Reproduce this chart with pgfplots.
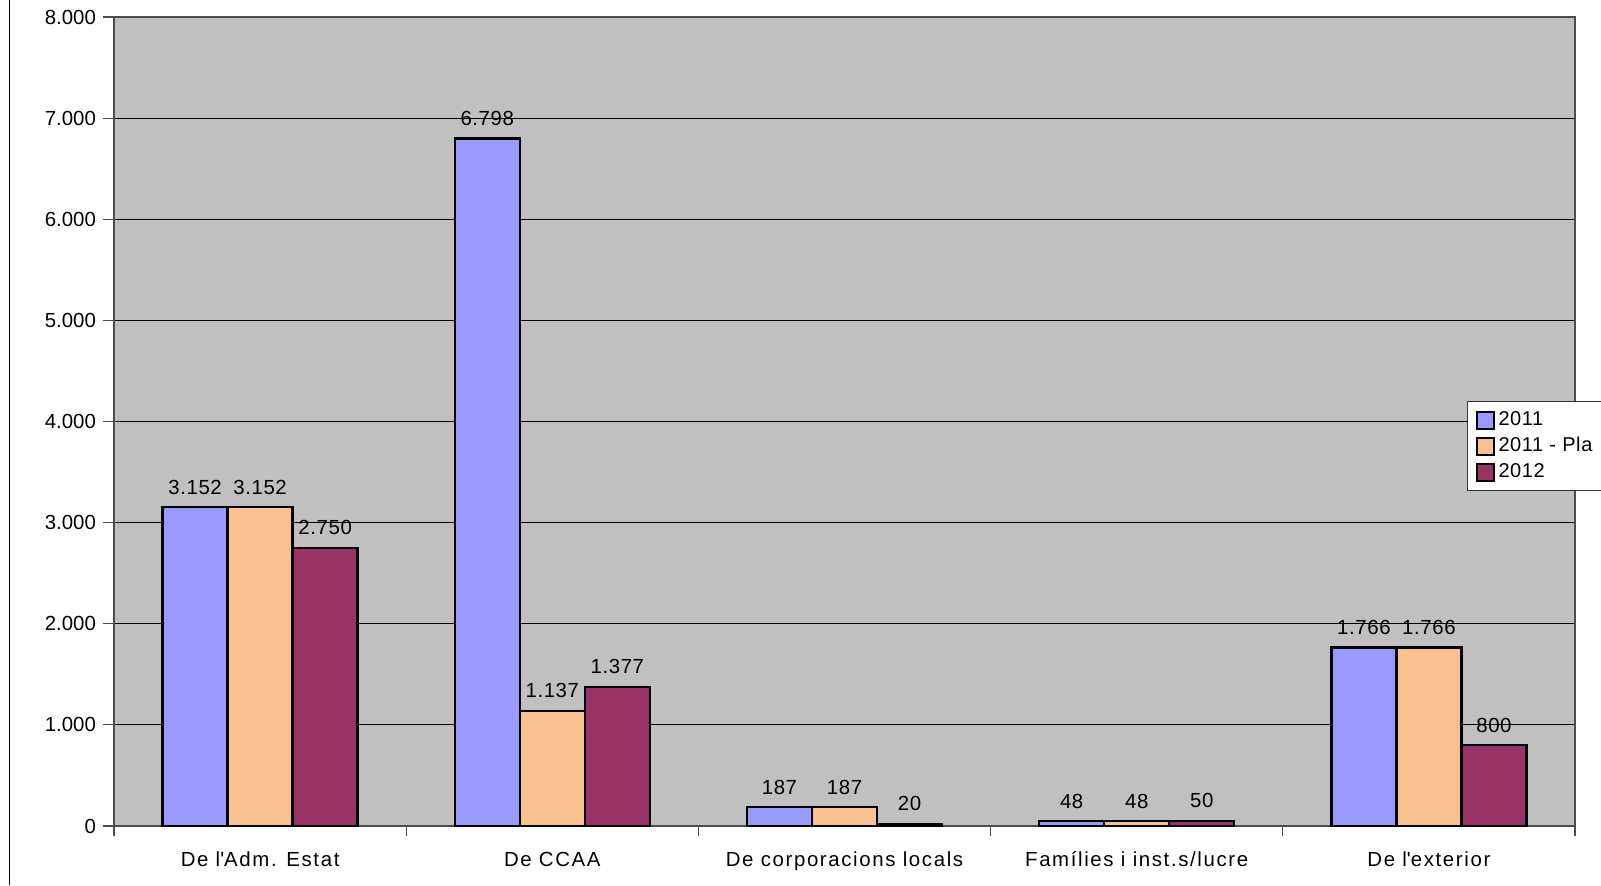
\documentclass[border=0pt]{standalone}
\usepackage{fontspec}
\setmainfont{Liberation Sans}
\usepackage{pgfplots}
\pgfplotsset{compat=1.18}
\definecolor{c2011}{HTML}{9999FF}
\definecolor{cpla}{HTML}{FAC090}
\definecolor{c2012}{HTML}{993366}
\definecolor{plotbg}{HTML}{C0C0C0}

\begin{document}
\begin{tikzpicture}
\path[use as bounding box] (-57pt,-29.5pt) rectangle (743.5pt,413pt);
\draw[line width=0.8pt] (-52.25pt,-29.5pt) -- (-52.25pt,413pt);
\begin{axis}[
  at={(0,0)}, anchor=south west,
  scale only axis, width=730.5pt, height=404.5pt,
  axis background/.style={fill=plotbg},
  axis line style={draw=black!70, line width=0.6pt},
  ybar, bar width=0.2226,
  xmin=-0.5, xmax=4.5, ymin=0, ymax=8000,
  ytick={0,1000,...,8000},
  scaled y ticks=false,
  xtick={0,...,4},
  xticklabels={De l\textquotesingle Adm. Estat, De CCAA, De corporacions locals, Famílies i inst.s/lucre, De l\textquotesingle exterior},
  minor xtick={-0.5,0.5,...,4.5},
  major x tick style={draw=none},
  minor x tick style={draw=black!70, line width=0.6pt},
  major y tick style={draw=black!70, line width=0.6pt},
  tick align=outside,
  major tick length=5.5pt, minor tick length=5pt,
  xtick pos=lower, ytick pos=left,
  ymajorgrids=true,
  major grid style={draw=black, line width=0.5pt},
  /pgf/number format/.cd, 1000 sep={.}, assume math mode=true, /pgfplots/.cd,
  tick label style={font=\fontsize{10.2}{12}\selectfont},
  xticklabel style={yshift=-3.5pt, text height=7.6pt, text depth=2.2pt,
    font=\fontsize{10.2}{12}\selectfont\addfontfeature{LetterSpace=8}},
  nodes near coords,
  every node near coord/.append style={font=\fontsize{10.2}{12}\selectfont\addfontfeature{LetterSpace=3}, black, yshift=2.5pt},
  area legend,
  legend image code/.code={\draw[#1, line width=1pt] (0pt,-4.25pt) rectangle (8.5pt,4.25pt);},
  legend cell align=left,
  legend style={at={(1,1)}, anchor=north west, xshift=-54pt, yshift=-192pt,
    draw=black!80, line width=0.5pt, fill=white,
    font=\fontsize{10}{12}\selectfont\addfontfeature{LetterSpace=3}, row sep=0.5pt, inner xsep=4pt, inner ysep=3pt},
]
\addplot[fill=c2011, draw=black, line width=1.2pt, bar shift=-0.2226] coordinates {(0,3152) (1,6798) (2,187) (3,48) (4,1766)};
\addplot[fill=cpla, draw=black, line width=1.2pt, bar shift=0] coordinates {(0,3152) (1,1137) (2,187) (3,48) (4,1766)};
\addplot[fill=c2012, draw=black, line width=1.2pt, bar shift=0.2226] coordinates {(0,2750) (1,1377) (2,20) (3,50) (4,800)};
\legend{2011, \makebox[54pt][l]{2011 - Pla}, 2012}
\end{axis}
\end{tikzpicture}
\end{document}
